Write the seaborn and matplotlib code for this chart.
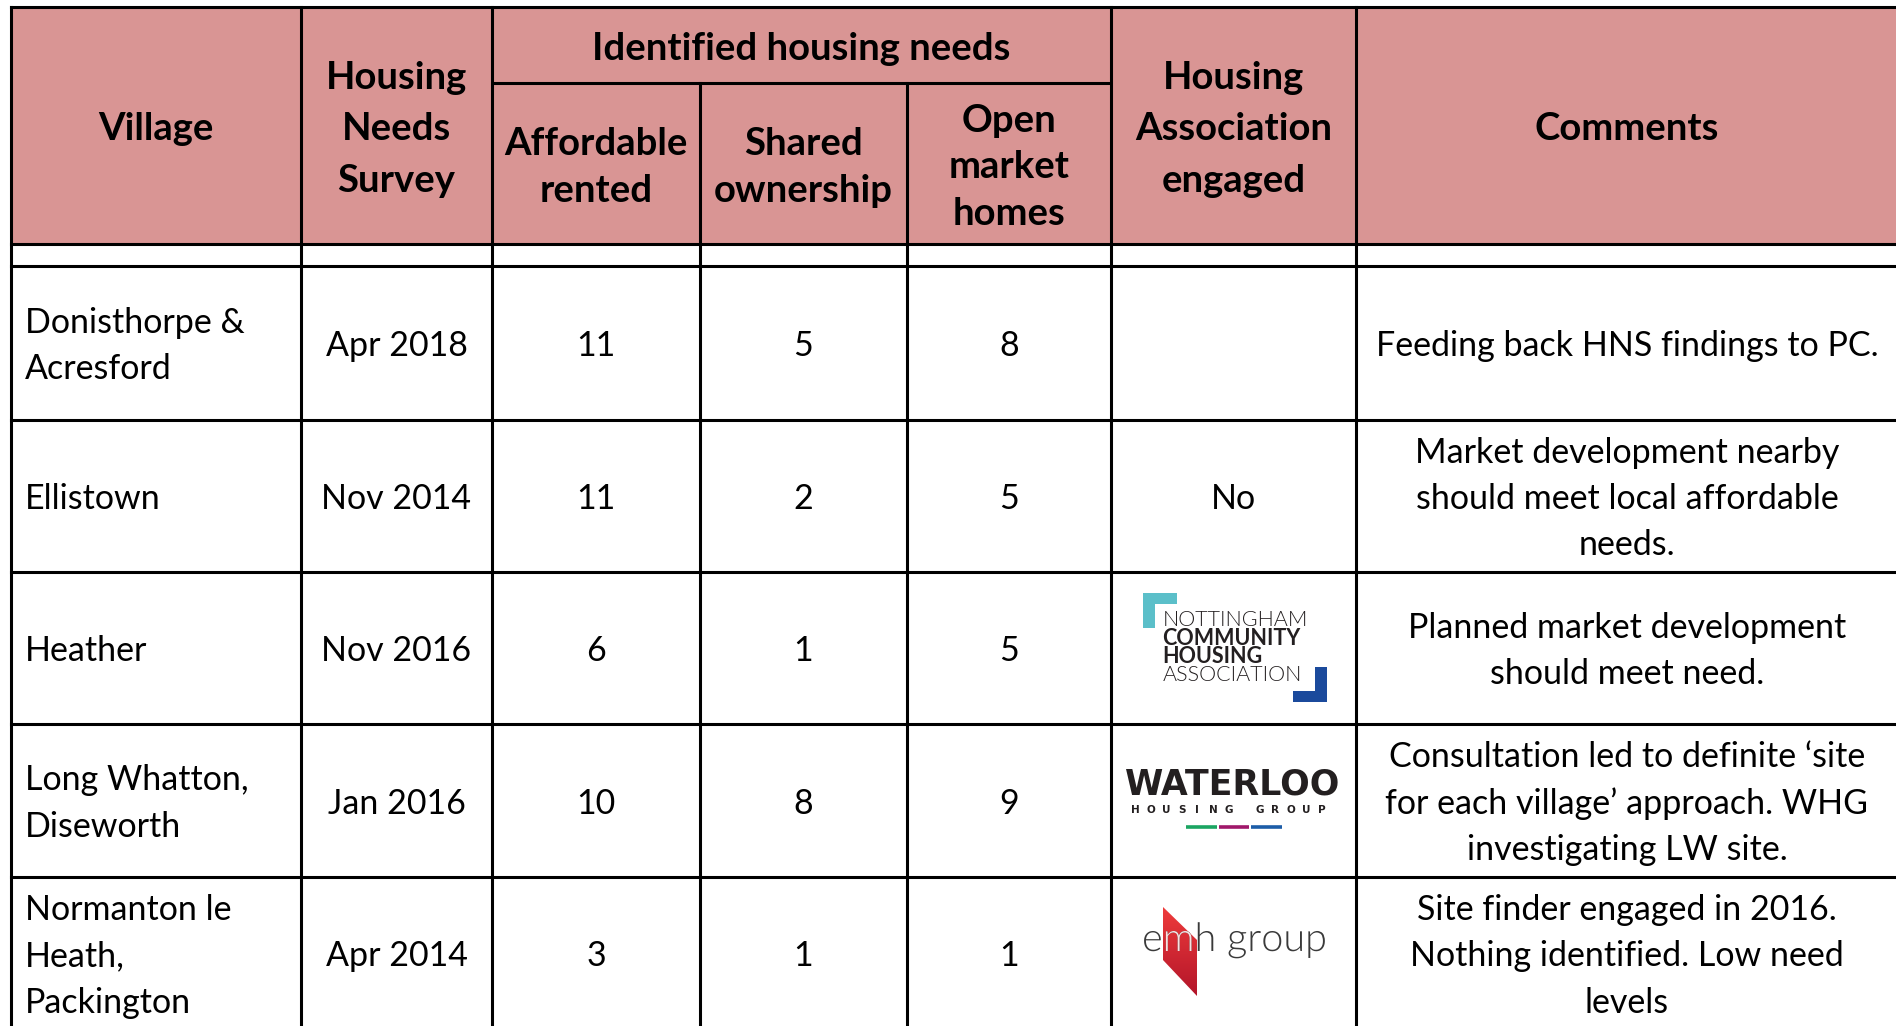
import numpy as np
import pandas as pd
import seaborn as sns
import matplotlib.pyplot as plt
import matplotlib.patches as mpatches
from matplotlib.textpath import TextPath
from matplotlib.font_manager import FontProperties
from matplotlib.transforms import Affine2D

# table content
villages = ["Donisthorpe &\nAcresford", "Ellistown", "Heather",
            "Long Whatton,\nDiseworth", "Normanton le\nHeath,\nPackington"]
surveys = ["Apr 2018", "Nov 2014", "Nov 2016", "Jan 2016", "Apr 2014"]
affordable_rented = [11, 11, 6, 10, 3]
shared_ownership = [5, 2, 1, 8, 1]
open_market = [8, 5, 5, 9, 1]
associations = ["", "No", "NCHA", "WATERLOO", "EMH"]
comments = ["Feeding back HNS findings to PC.",
            "Market development nearby\nshould meet local affordable\nneeds.",
            "Planned market development\nshould meet need.",
            "Consultation led to definite \u2018site\nfor each village\u2019 approach. WHG\ninvestigating LW site.",
            "Site finder engaged in 2016.\nNothing identified. Low need\nlevels"]

df = pd.DataFrame({
    "village": villages, "survey": surveys, "affordable": affordable_rented,
    "shared": shared_ownership, "open": open_market,
    "association": associations, "comment": comments,
})

# layout in pixels
W, H = 1896, 1026
col_edges = [11, 301, 492, 700, 907, 1111, 1356, 1898]
top, sub_line, head_bottom = 7, 83, 244
row_edges = [266, 420, 572, 724, 877, 1030]
header_color = "#D99594"
lw = 2.2

sns.set_theme(style="white")
plt.rcParams['font.family'] = ['Lato', 'DejaVu Sans']

fig = plt.figure(figsize=(W / 100, H / 100), dpi=100)
ax = fig.add_axes([0, 0, 1, 1])
ax.set_xlim(0, W)
ax.set_ylim(H, 0)
ax.axis("off")

# header background
ax.add_patch(mpatches.Rectangle((col_edges[0], top), col_edges[-1] - col_edges[0],
                                head_bottom - top, facecolor=header_color, edgecolor="none"))

# grid lines
for y in [top, head_bottom] + row_edges:
    ax.plot([col_edges[0], col_edges[-1]], [y, y], color="black", lw=lw, solid_capstyle="projecting")
ax.plot([col_edges[2], col_edges[5]], [sub_line, sub_line], color="black", lw=lw)
for i, x in enumerate(col_edges):
    y0 = sub_line if i in (3, 4) else top
    ax.plot([x, x], [y0, row_edges[-1]], color="black", lw=lw, solid_capstyle="projecting")


def mid(a, b):
    return (a + b) / 2


hoff = 4
hkw = dict(ha="center", va="center", fontsize=27.5, fontweight="bold", linespacing=1.64, color="black")
skw = dict(hkw, linespacing=1.45)
ax.text(mid(col_edges[0], col_edges[1]), mid(top, head_bottom) + hoff, "Village", **hkw)
ax.text(mid(col_edges[1], col_edges[2]), mid(top, head_bottom) + hoff, "Housing\nNeeds\nSurvey", **hkw)
ax.text(mid(col_edges[2], col_edges[5]), mid(top, sub_line) + hoff, "Identified housing needs", **hkw)
ax.text(mid(col_edges[2], col_edges[3]), mid(sub_line, head_bottom) + hoff, "Affordable\nrented", **skw)
ax.text(mid(col_edges[3], col_edges[4]), mid(sub_line, head_bottom) + hoff, "Shared\nownership", **skw)
ax.text(mid(col_edges[4], col_edges[5]), mid(sub_line, head_bottom) + hoff, "Open\nmarket\nhomes", **skw)
ax.text(mid(col_edges[5], col_edges[6]), mid(top, head_bottom) + hoff, "Housing\nAssociation\nengaged", **hkw)
ax.text(mid(col_edges[6], col_edges[7]), mid(top, head_bottom) + hoff, "Comments", **hkw)


def draw_ncha(cx, cy):
    cyan, blue = "#5BBFC9", "#1B4A9C"
    ax.add_patch(mpatches.Rectangle((cx - 90.5, cy - 55), 12, 35, color=cyan, lw=0))
    ax.add_patch(mpatches.Rectangle((cx - 90.5, cy - 55), 34, 11, color=cyan, lw=0))
    ax.add_patch(mpatches.Rectangle((cx + 81.5, cy + 19), 12, 35, color=blue, lw=0))
    ax.add_patch(mpatches.Rectangle((cx + 59.5, cy + 43), 34, 11, color=blue, lw=0))
    lines = [("NOTTINGHAM", 300), ("COMMUNITY", "bold"), ("HOUSING", "bold"), ("ASSOCIATION", 300)]
    for k, (word, wt) in enumerate(lines):
        ax.text(cx - 71, cy - 28 + 18.3 * k, word, ha="left", va="center", fontsize=15.5,
                fontweight=wt, color="#231F20")


def draw_waterloo(cx, cy):
    ax.text(cx - 1, cy - 16, "WATERLOO", ha="center", va="center", fontsize=25,
            fontweight="black", color="#231F20", family=["DejaVu Sans"])
    for i, ch in enumerate("HOUSING GROUP"):
        ax.text(cx - 98.5 + 15.6 * i, cy + 9.5, ch, ha="center", va="center", fontsize=7.5,
                fontweight="bold", color="#231F20", family=["DejaVu Sans"])
    for x0, x1, c in [(-47.5, -16.5, "#1BA562"), (-14.5, 15.5, "#A0186A"), (17.5, 48.5, "#1C5DA8")]:
        ax.plot([cx + x0, cx + x1], [cy + 26, cy + 26], color=c, lw=2.6, solid_capstyle="butt")


def draw_emh(cx, cy):
    pts = np.array([[-70.5, -46.5], [-36.5, -13.5], [-36.5, 42.5], [-70.5, 6.5]]) + [cx, cy]
    poly = mpatches.Polygon(pts, closed=True, facecolor="none", edgecolor="none")
    ax.add_patch(poly)
    grad = np.linspace(0, 1, 100)[:, None]
    cmap = sns.blend_palette(["#EE3B3B", "#B3152A"], as_cmap=True)
    im = ax.imshow(grad, extent=[pts[:, 0].min(), pts[:, 0].max(), pts[:, 1].max(), pts[:, 1].min()],
                   cmap=cmap, aspect="auto", origin="upper", zorder=2)
    im.set_clip_path(poly)
    tp = TextPath((0, 0), "emh group", size=39.6, prop=FontProperties(family="Lato", weight=300))
    tr = Affine2D().scale(1, -1).translate(cx - 91.5, cy - 2.5) + ax.transData
    ax.add_patch(mpatches.PathPatch(tp, transform=tr, facecolor="#3A3A3A", edgecolor="none", zorder=3))
    light = mpatches.PathPatch(tp, transform=tr, facecolor="#F8E0E0", edgecolor="none", zorder=4)
    ax.add_patch(light)
    light.set_clip_path(poly)


boff = 3
bkw = dict(va="center", fontsize=24.5, linespacing=1.54, color="black")
num_cols = ["affordable", "shared", "open"]
for r, row in df.iterrows():
    cy = mid(row_edges[r], row_edges[r + 1])
    ax.text(col_edges[0] + 14, cy + boff, row["village"], ha="left", **bkw)
    ax.text(mid(col_edges[1], col_edges[2]), cy + boff, row["survey"], ha="center", **bkw)
    for j, c in enumerate(num_cols):
        ax.text(mid(col_edges[2 + j], col_edges[3 + j]), cy + boff, str(row[c]), ha="center", **bkw)
    hx = mid(col_edges[5], col_edges[6])
    if row["association"] == "No":
        ax.text(hx, cy + boff, "No", ha="center", **bkw)
    elif row["association"] == "NCHA":
        draw_ncha(hx, cy)
    elif row["association"] == "WATERLOO":
        draw_waterloo(hx, cy)
    elif row["association"] == "EMH":
        draw_emh(hx, cy)
    ax.text(mid(col_edges[6], col_edges[7]), cy + boff, row["comment"], ha="center", **bkw)

ax.set_xlim(0, W)
ax.set_ylim(H, 0)
fig.savefig("out.png", dpi=100, facecolor="white")
